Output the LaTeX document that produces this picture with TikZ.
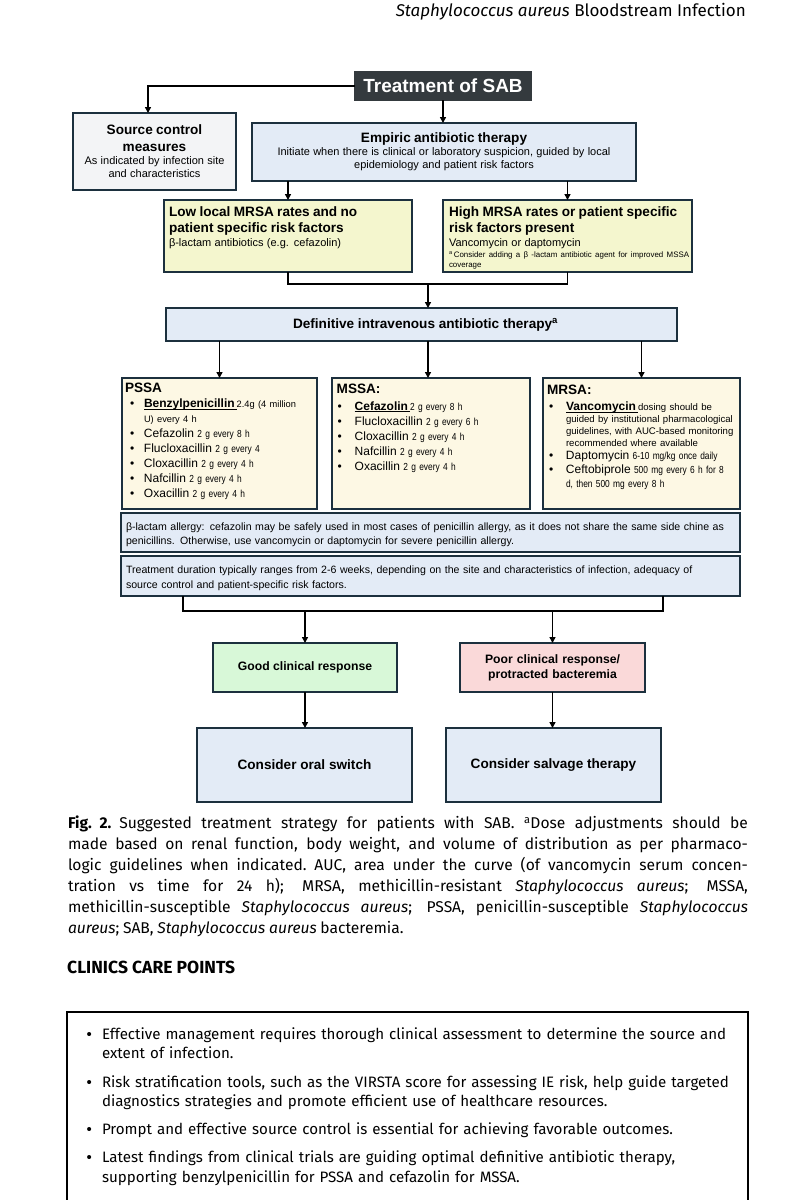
\documentclass[tikz,border=0pt]{standalone}
\usepackage{fontspec}
\setmainfont{Liberation Sans}
\newfontfamily\narrowsans[FakeStretch=0.82]{Liberation Sans}
\newfontfamily\capfont{Fira Sans}
\usetikzlibrary{arrows.meta}
\definecolor{bordc}{RGB}{28,48,62}
\definecolor{ctitle}{RGB}{52,58,62}
\definecolor{cgray}{RGB}{243,244,246}
\definecolor{cblue}{RGB}{227,235,246}
\definecolor{cyel}{RGB}{244,246,206}
\definecolor{ccream}{RGB}{253,248,228}
\definecolor{cgreen}{RGB}{216,248,216}
\definecolor{cpink}{RGB}{250,217,217}
\newcommand\fs[2]{\fontsize{#1}{#2}\selectfont}
\newcommand\ndose[1]{{\narrowsans\fs{10.2}{11}#1}}
\newcommand\rdose[1]{{\fs{9.3}{11}#1}}
\newcommand\ulx[1]{\setbox0\hbox{#1}\rlap{\rule[-1.7pt]{\wd0}{0.9pt}}\box0}
\newcommand\bitem[3]{{\leftskip=#1\relax\hangindent=#2\relax\hangafter=1\noindent\makebox[#2][l]{\fs{12}{12}\textbullet}#3\par}}
\newcommand\citem[1]{{\hangindent=15.5pt\hangafter=1\noindent\makebox[15.5pt][l]{\normalfont\fs{15}{19.5}\textbullet}#1\par}}
\newcommand\capline[1]{\noindent\hbox to 680pt{#1}\par}
\begin{document}
\begin{tikzpicture}[x=1pt,y=-1pt,
  bx/.style={draw=bordc, line width=1.8pt, inner sep=2pt, outer sep=0pt},
  arr/.style={line width=1.6pt, -{Triangle[length=6pt,width=6pt]}},
  ln/.style={line width=1.6pt},
  txt/.style={inner sep=0pt, outer sep=0pt, align=left}]
\useasboundingbox (0,0) rectangle (789,1200);
\fill[white] (0,0) rectangle (789,1200);

% running header
\node[inner sep=0pt, anchor=base east, font=\capfont\fs{17}{19}] (hdr) at (746,16) {\textit{Staphylococcus aureus} Bloodstream Infection};

% title
\node[bx, draw=ctitle, fill=ctitle, text=white, font=\bfseries\fs{19}{22}, minimum width=176pt, minimum height=28pt, inner sep=0pt] (title) at (443,86) {Treatment of SAB};

% source control
\node[bx, fill=cgray, minimum width=163pt, minimum height=77pt, text width=155pt, align=center] (src) at (154.5,151.5)
 {{\bfseries\fs{13.6}{17}Source control\\measures\par}{\fs{11}{13}As indicated by infection site\\and characteristics\par}};

% empiric
\node[bx, fill=cblue, minimum width=384pt, minimum height=58pt, text width=376pt, align=center] (emp) at (444,152)
 {{\bfseries\fs{13.6}{16}Empiric antibiotic therapy\par}{\fs{11}{13}Initiate when there is clinical or laboratory suspicion, guided by local\\epidemiology and patient risk factors\par}};

% low / high
\node[bx, fill=cyel, minimum width=248pt, minimum height=72pt, anchor=north west] (low) at (164,200) {};
\node[txt, anchor=north west, text width=240pt] (lowt) at (169,207)
 {{\bfseries\fs{13.6}{16}Low local MRSA rates and no\\patient specific risk factors\par}{\fs{11}{14}β-lactam antibiotics (e.g. cefazolin)\par}};
\node[bx, fill=cyel, minimum width=249pt, minimum height=72pt, anchor=north west] (high) at (443,200) {};
\node[txt, anchor=north west, text width=243pt] (hight) at (449,207)
 {{\bfseries\fs{13.6}{16}High MRSA rates or patient specific\\risk factors present\par}{\fs{11}{14}Vancomycin or daptomycin\par}{\fs{7.9}{10.5}\textsuperscript{a}\,Consider adding a β -lactam antibiotic agent for improved MSSA\\coverage\par}};

% definitive
\node[bx, fill=cblue, minimum width=511pt, minimum height=33pt, inner sep=0pt, font=\bfseries\fs{13.6}{16}] (def) at (421.5,324.5) {\hspace*{8pt}Definitive intravenous antibiotic therapy\textsuperscript{a}};

% PSSA
\node[bx, fill=ccream, minimum width=195pt, minimum height=131pt, anchor=north west] (pssa) at (122,378) {};
\node[txt, anchor=north west, text width=190pt] (pssat) at (125,383.2)
 {{\bfseries\fs{13.6}{15}PSSA\par}\fs{12}{15}%
  \bitem{5pt}{14pt}{\textbf{\ulx{Benzylpenicillin\,}}\rdose{2.4g (4 million}\newline\rdose{U) every 4 h}}%
  \bitem{5pt}{14pt}{Cefazolin \ndose{2 g every 8 h}}%
  \bitem{5pt}{14pt}{Flucloxacillin \ndose{2 g every 4}}%
  \bitem{5pt}{14pt}{Cloxacillin \ndose{2 g every 4 h}}%
  \bitem{5pt}{14pt}{Nafcillin \ndose{2 g every 4 h}}%
  \bitem{5pt}{14pt}{Oxacillin \ndose{2 g every 4 h}}};

% MSSA
\node[bx, fill=ccream, minimum width=198pt, minimum height=131pt, anchor=north west] (mssa) at (332,378) {};
\node[txt, anchor=north west, text width=192pt] (mssat) at (336.7,383.5)
 {{\bfseries\fs{13.6}{15}MSSA:\par}\vspace{2.5pt}\fs{12}{15}%
  \bitem{1pt}{17pt}{\textbf{\ulx{Cefazolin\,}}\ndose{2 g every 8 h}}%
  \bitem{1pt}{17pt}{Flucloxacillin \ndose{2 g every 6 h}}%
  \bitem{1pt}{17pt}{Cloxacillin \ndose{2 g every 4 h}}%
  \bitem{1pt}{17pt}{Nafcillin \ndose{2 g every 4 h}}%
  \bitem{1pt}{17pt}{Oxacillin \ndose{2 g every 4 h}}};

% MRSA
\node[bx, fill=ccream, minimum width=197pt, minimum height=131pt, anchor=north west] (mrsa) at (543,378) {};
\node[txt, anchor=north west, text width=192pt] (mrsat) at (547,385.1)
 {{\bfseries\fs{13.6}{15}MRSA:\par}\vspace{4.6pt}%
  {\fs{9.6}{11.7}\bitem{2pt}{17pt}{{\fs{12}{11.7}\textbf{\ulx{Vancomycin\,}}}dosing should be\newline guided by institutional pharmacological\newline guidelines, with AUC-based monitoring\newline recommended where available}}%
  {\fs{12}{13.5}\bitem{2pt}{17pt}{Daptomycin \ndose{6-10 mg/kg once daily}}}%
  {\fs{12}{13.8}\bitem{2pt}{17pt}{Ceftobiprole \ndose{500 mg every 6 h for 8}\newline\ndose{d, then 500 mg every 8 h}}}};

% allergy / duration
\node[bx, fill=cblue, minimum width=619pt, minimum height=39pt, anchor=north west] (alg) at (121,513) {};
\node[txt, anchor=north west, text width=612pt, font=\fs{10.6}{14}] (algt) at (126,523.2)
 {β-lactam allergy: cefazolin may be safely used in most cases of penicillin allergy, as it does not share the same side chine as\\penicillins. Otherwise, use vancomycin or daptomycin for severe penicillin allergy.};
\node[bx, fill=cblue, minimum width=619pt, minimum height=40pt, anchor=north west] (dur) at (121,556) {};
\node[txt, anchor=north west, text width=612pt, font=\fs{10.6}{15}] (durt) at (126,565.5)
 {Treatment duration typically ranges from 2-6 weeks, depending on the site and characteristics of infection, adequacy of\\source control and patient-specific risk factors.};

% responses
\node[bx, fill=cgreen, minimum width=184pt, minimum height=49pt, anchor=north west, font=\bfseries\fs{12.2}{15}] (good) at (213,643) {Good clinical response};
\node[bx, fill=cpink, minimum width=185pt, minimum height=49pt, anchor=north west, text width=178pt, align=center, font=\bfseries\fs{12.2}{15}] (poor) at (460,643) {Poor clinical response/\\protracted bacteremia};
\node[bx, fill=cblue, minimum width=215pt, minimum height=74pt, anchor=north west, font=\bfseries\fs{13.6}{16}] (oral) at (197,728) {Consider oral switch};
\node[bx, fill=cblue, minimum width=215pt, minimum height=74pt, anchor=north west, font=\bfseries\fs{13.6}{16}] (salv) at (446,728) {Consider salvage therapy};

% connectors
\draw[arr] (title.west) -| ([xshift=-6.5pt]src.north);
\draw[arr] (title.south) -- (title.south |- emp.north);
\draw[arr] (low.north |- emp.south) -- (low.north);
\draw[arr] (high.north |- emp.south) -- (high.north);
\coordinate (j1) at (428,284);
\draw[ln] (low.south) |- (j1) -| (high.south);
\draw[arr] (j1) -- (j1 |- def.north);
\draw[arr] (pssa.north |- def.south) -- (pssa.north);
\draw[arr] (j1 |- def.south) -- (j1 |- mssa.north);
\draw[arr] (mrsa.north |- def.south) -- (mrsa.north);
\coordinate (bl) at (183,611);
\coordinate (br) at (663,611);
\draw[ln] (bl |- dur.south) -- (bl) -- (br) -- (br |- dur.south);
\draw[arr] (good.north |- bl) -- (good.north);
\draw[arr] (poor.north |- bl) -- (poor.north);
\draw[arr] (good.south) -- (good.south |- oral.north);
\draw[arr] (poor.south) -- (poor.south |- salv.north);

% caption
\node[txt, anchor=north west, text width=680pt, font=\capfont\fs{15.6}{21}] (cap) at (68,815.8)
 {\spaceskip=0.24em plus 1.5em minus 0.05em\relax
  \capline{\textbf{Fig. 2.} Suggested treatment strategy for patients with SAB. \textsuperscript{a}Dose adjustments should be}
  \capline{made based on renal function, body weight, and volume of distribution as per pharmaco-}
  \capline{logic guidelines when indicated. AUC, area under the curve (of vancomycin serum concen-}
  \capline{tration vs time for 24 h); MRSA, methicillin-resistant \textit{Staphylococcus aureus}; MSSA,}
  \capline{methicillin-susceptible \textit{Staphylococcus aureus}; PSSA, penicillin-susceptible \textit{Staphylococcus}}
  \noindent\textit{aureus}; SAB, \textit{Staphylococcus aureus} bacteremia.\par};

% care points
\node[inner sep=0pt, anchor=base west, font=\capfont\bfseries\fs{17.5}{20}] (ccp) at (67,973.5) {CLINICS CARE POINTS};
\draw[line width=2.2pt] (67,1203) -- (67,1012) -- (748,1012) -- (748,1203);
\node[txt, anchor=north west, text width=655pt, font=\capfont\fs{15.1}{19.5}] (care) at (86.5,1027.5)
 {\citem{Effective management requires thorough clinical assessment to determine the source and\newline extent of infection.}\vspace{9pt}%
  \citem{Risk stratification tools, such as the VIRSTA score for assessing IE risk, help guide targeted\newline diagnostics strategies and promote efficient use of healthcare resources.}\vspace{8pt}%
  \citem{Prompt and effective source control is essential for achieving favorable outcomes.}\vspace{9pt}%
  \citem{Latest findings from clinical trials are guiding optimal definitive antibiotic therapy,\newline supporting benzylpenicillin for PSSA and cefazolin for MSSA.}};
\end{tikzpicture}
\end{document}
